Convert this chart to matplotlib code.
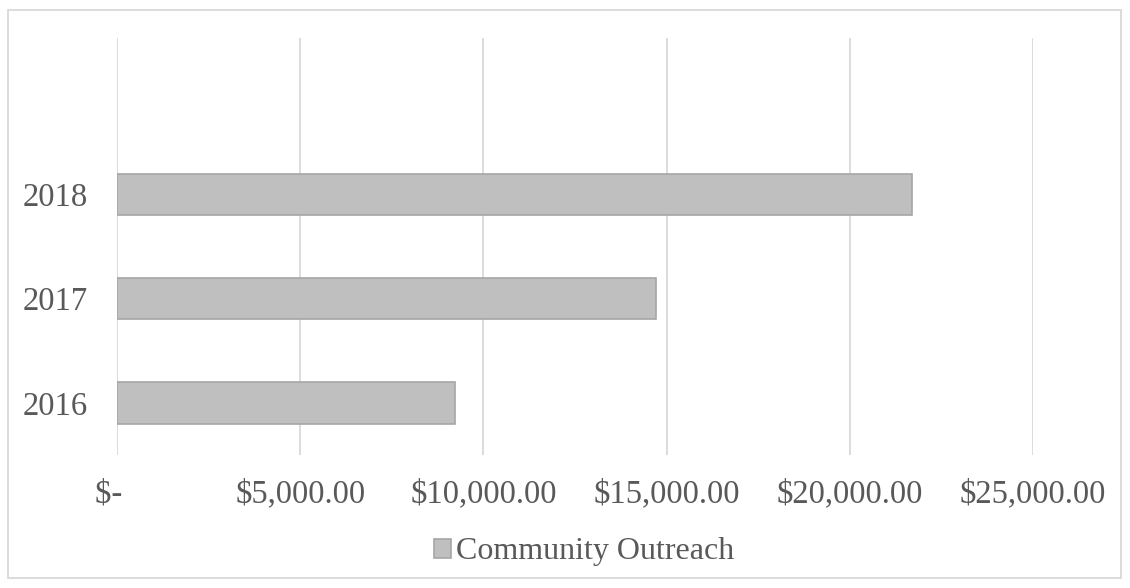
import matplotlib.pyplot as plt
from matplotlib.patches import Rectangle
from matplotlib.ticker import FuncFormatter

# Community outreach spending by year
years = ['2016', '2017', '2018', '']
amounts = [9230, 14700, 21700, 0]
series_name = 'Community Outreach'

text_color = '#595959'
plt.rcParams['font.family'] = ['Liberation Serif', 'DejaVu Serif']

fig = plt.figure(figsize=(11.3, 5.88), dpi=100)
ax = fig.add_axes([117 / 1130, 1 - 455 / 588, (1033 - 117) / 1130, (455 - 38) / 588])

pos = list(range(len(years)))
ax.barh(pos[:3], amounts[:3], height=0.4, color='#BFBFBF', edgecolor='#A6A6A6',
        linewidth=1.2, label=series_name, zorder=3)

ax.set_xlim(0, 25000)
ax.set_ylim(-0.5, 3.5)
ax.set_xticks(range(0, 25001, 5000))
ax.xaxis.set_major_formatter(FuncFormatter(lambda v, p: '$-  ' if v == 0 else f'${v:,.2f}'))
ax.set_yticks(pos[:3])
ax.set_yticklabels(years[:3])

ax.grid(axis='x', color='#D9D9D9', linewidth=1.3, zorder=0)
for s in ax.spines.values():
    s.set_visible(False)
ax.tick_params(length=0, labelsize=23.5, labelcolor=text_color)
ax.tick_params(axis='x', pad=17)
ax.tick_params(axis='y', pad=21)

fig.legend(loc='center', bbox_to_anchor=(0.5 + 19 / 1130, 1 - 552 / 588), frameon=False,
           fontsize=23, labelcolor=text_color, handlelength=0.55, handleheight=0.55,
           handletextpad=0.15)

# outer chart border
fig.patches.append(Rectangle((8 / 1130, 1 - 578 / 588), 1113 / 1130, 568 / 588,
                             transform=fig.transFigure, fill=False,
                             edgecolor='#D9D9D9', linewidth=1.3))

fig.savefig('out.png', dpi=100)
